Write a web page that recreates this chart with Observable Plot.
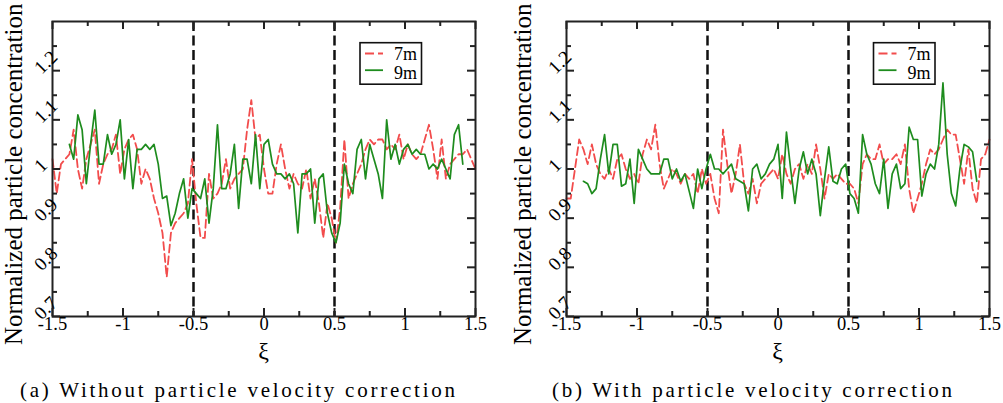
<!DOCTYPE html>
<html><head><meta charset="utf-8">
<script src="https://cdn.jsdelivr.net/npm/d3@7"></script>
<script src="https://cdn.jsdelivr.net/npm/@observablehq/plot@0.6"></script>
<style>
html,body{margin:0;padding:0;background:#fff;}
#fig{position:relative;width:1003px;height:403px;overflow:hidden;font-family:"Liberation Serif",serif;background:#fff;}
.panel{position:absolute;top:0;}
#overlay{position:absolute;left:0;top:0;pointer-events:none;}
</style></head><body><div id="fig"></div>
<script>
// ξ sample positions (typed grid)
const xiRed = [-1.5,-1.47,-1.44,-1.41,-1.38,-1.35,-1.32,-1.29,-1.26,-1.23,-1.2,-1.17,-1.14,-1.11,-1.08,-1.05,-1.02,-0.99,-0.96,-0.93,-0.9,-0.87,-0.84,-0.81,-0.78,-0.75,-0.72,-0.69,-0.66,-0.63,-0.6,-0.57,-0.54,-0.51,-0.48,-0.45,-0.42,-0.39,-0.36,-0.33,-0.3,-0.27,-0.24,-0.21,-0.18,-0.15,-0.12,-0.09,-0.06,-0.03,0,0.03,0.06,0.09,0.12,0.15,0.18,0.21,0.24,0.27,0.3,0.33,0.36,0.39,0.42,0.45,0.48,0.51,0.54,0.57,0.6,0.63,0.66,0.69,0.72,0.75,0.78,0.81,0.84,0.87,0.9,0.93,0.96,0.99,1.02,1.05,1.08,1.11,1.14,1.17,1.2,1.23,1.26,1.29,1.32,1.35,1.38,1.41,1.44,1.47,1.5];
const xiGreen = [-1.38,-1.35,-1.32,-1.29,-1.26,-1.23,-1.2,-1.17,-1.14,-1.11,-1.08,-1.05,-1.02,-0.99,-0.96,-0.93,-0.9,-0.87,-0.84,-0.81,-0.78,-0.75,-0.72,-0.69,-0.66,-0.63,-0.6,-0.57,-0.54,-0.51,-0.48,-0.45,-0.42,-0.39,-0.36,-0.33,-0.3,-0.27,-0.24,-0.21,-0.18,-0.15,-0.12,-0.09,-0.06,-0.03,0,0.03,0.06,0.09,0.12,0.15,0.18,0.21,0.24,0.27,0.3,0.33,0.36,0.39,0.42,0.45,0.48,0.51,0.54,0.57,0.6,0.63,0.66,0.69,0.72,0.75,0.78,0.81,0.84,0.87,0.9,0.93,0.96,0.99,1.02,1.05,1.08,1.11,1.14,1.17,1.2,1.23,1.26,1.29,1.32,1.35,1.38,1.41];

// (a) without correction
const conc7mA = [1.02,0.95,1.01,1.02,1.03,1.08,1.00,0.96,1.02,1.05,1.08,0.97,1.01,1.03,1.04,1.07,0.99,1.04,1.06,1.07,1.04,0.97,1.00,0.98,0.94,0.91,0.87,0.78,
0.87,0.89,0.90,0.91,0.93,1.02,
0.93,0.86,0.86,0.99,0.94,0.95,0.97,1.02,0.96,0.98,0.99,1.00,1.08,1.14,1.06,1.07,1.00,0.95,0.95,1.01,1.05,1.00,0.96,0.99,0.97,0.96,1.00,0.94,0.98,0.93,0.86,0.93,0.90,0.85,0.92,1.06,0.94,0.97,0.99,1.01,1.04,1.06,1.05,1.06,1.06,1.04,1.05,1.04,1.07,1.02,1.05,1.03,1.02,1.03,1.06,1.09,1.04,0.98,1.06,0.98,1.01,1.02,1.03,1.03,1.04,1.02,1.00];
const conc9mA = [1.05,1.02,1.11,1.08,0.97,1.05,1.12,1.01,1.01,1.07,1.03,1.05,1.10,0.98,1.06,0.96,1.04,1.04,1.05,1.04,1.05,1.01,0.94,0.945,0.885,0.91,0.95,0.98,0.90,0.96,
0.95,0.94,0.98,0.89,0.96,1.09,0.96,0.96,0.99,1.05,0.92,1.02,1.02,0.97,1.07,0.96,1.05,1.06,1.01,0.99,0.99,0.98,0.99,0.97,0.87,0.99,0.99,1.00,0.89,0.98,0.99,0.91,
0.87,0.85,0.89,1.01,0.97,0.95,1.04,1.06,0.98,1.05,1.02,0.99,0.94,1.10,1.02,1.05,1.01,1.04,1.05,1.03,1.04,1.03,1.03,1.00,1.01,1.00,1.02,1.00,0.98,1.07,1.09,1.01];

// (b) with correction
const conc7mB = [0.94,0.94,1.00,1.06,1.04,1.01,1.05,1.01,0.99,0.98,1.00,0.98,1.02,1.03,1.00,0.98,0.99,0.97,1.03,1.06,1.04,1.09,1.01,0.96,0.98,1.00,0.99,0.97,0.99,0.98,0.99,0.95,1.00,0.97,
0.99,0.94,0.91,1.08,1.01,0.95,0.99,1.05,0.97,0.95,0.98,0.93,0.97,0.98,0.99,1.00,0.98,1.03,0.99,0.97,1.00,1.01,0.98,1.01,0.99,1.05,1.00,0.94,0.99,0.98,0.99,0.98,0.97,
0.97,0.96,0.93,1.01,1.03,1.02,1.02,1.05,1.01,1.02,1.02,1.03,1.01,1.05,0.96,0.91,0.94,0.97,1.01,1.04,1.03,1.04,1.06,1.08,1.07,1.07,1.02,0.97,1.04,0.96,0.93,1.02,1.03,1.06];
const conc9mB = [0.975,0.97,0.95,0.96,1.02,1.07,0.99,1.05,1.05,0.965,0.97,1.02,0.93,1.04,1.02,1.00,0.99,0.99,0.99,1.02,1.02,0.98,1.00,0.975,0.99,0.955,0.92,1.00,0.96,1.00,
1.03,1.00,1.00,0.99,1.00,1.01,0.98,0.975,0.97,0.915,1.00,1.01,0.98,0.99,1.01,1.02,1.05,0.94,1.075,1.00,0.93,1.00,1.035,0.99,1.02,0.99,0.905,0.98,1.045,0.975,0.97,1.00,1.01,
0.95,0.94,0.91,1.07,1.03,1.01,0.97,0.95,1.02,0.92,0.99,1.01,0.96,0.97,1.085,1.06,1.06,0.945,0.99,1.01,1.00,1.05,1.175,1.03,0.95,0.925,1.00,1.05,1.045,1.035,0.975];

// axes
const xTickValues = [-1.5,-1,-0.5,0,0.5,1,1.5];
const xTickLabels = ["-1.5","-1","-0.5","0","0.5","1","1.5"];
const xMinorTicks = [-1.25,-0.75,-0.25,0.25,0.75,1.25];
const yTickValues = [0.7,0.8,0.9,1.0,1.1,1.2];
const yTickLabels = ["0.7","0.8","0.9","1","1.1","1.2"];
const yMinorTicks = [0.75,0.85,0.95,1.05,1.15,1.25];
const boundaries = [-0.5,0.5];
const seriesNames = ["7m","9m"];
const captions = ["(a) Without particle velocity correction","(b) With particle velocity correction"];
const yTitle = "Normalized particle concentration";
const xTitle = "ξ";

const RED = "#f24c4c", GREEN = "#1e8c1e", INK = "#222";
const FONT = '"Liberation Serif", serif';

function makePanel(v7, v9, width, marginRight) {
  const W = width - 52 - marginRight, H = 403 - 21 - 87;
  const d7 = xiRed.map((x, i) => ({x, y: v7[i]}));
  const d9 = xiGreen.map((x, i) => ({x, y: v9[i]}));
  const xT = xTickValues.map((v, i) => ({v, label: xTickLabels[i]}));
  const yT = yTickValues.map((v, i) => ({v, label: yTickLabels[i]}));
  const tk = {stroke: INK, strokeWidth: 2};
  return Plot.plot({
    width, height: 403, marginTop: 21, marginBottom: 87, marginLeft: 52, marginRight,
    style: {fontFamily: FONT, fontSize: "18px", background: "transparent", overflow: "visible", color: "#000"},
    x: {domain: [-1.5, 1.5], axis: null},
    y: {domain: [0.7, 1.3], axis: null},
    marks: [
      Plot.ruleX(boundaries, {x: d => d, stroke: "#111", strokeWidth: 2.5, strokeDasharray: "10,4.5"}),
      Plot.line(d7, {x: "x", y: "y", stroke: RED, strokeWidth: 1.8, strokeDasharray: "8,4"}),
      Plot.line(d9, {x: "x", y: "y", stroke: GREEN, strokeWidth: 1.7}),
      Plot.ruleX(xTickValues, {x: d => d, insetTop: H - 8, ...tk}),
      Plot.ruleX(xTickValues, {x: d => d, insetBottom: H - 8, ...tk}),
      Plot.ruleX(xMinorTicks, {x: d => d, insetTop: H - 5, ...tk}),
      Plot.ruleX(xMinorTicks, {x: d => d, insetBottom: H - 5, ...tk}),
      Plot.ruleY(yTickValues, {y: d => d, insetRight: W - 8, ...tk}),
      Plot.ruleY(yTickValues, {y: d => d, insetLeft: W - 8, ...tk}),
      Plot.ruleY(yMinorTicks, {y: d => d, insetRight: W - 5, ...tk}),
      Plot.ruleY(yMinorTicks, {y: d => d, insetLeft: W - 5, ...tk}),
      Plot.frame({stroke: INK, strokeWidth: 2}),
      Plot.text(xT, {x: "v", text: "label", frameAnchor: "bottom", dy: 13, fontSize: 18.5, fill: "#000"}),
      Plot.text(yT, {y: "v", text: "label", frameAnchor: "left", dx: -15, rotate: -45, fontSize: 19, fill: "#000"})
    ]
  });
}

const fig = document.getElementById("fig");
const layouts = [
  {left: 0, width: 500, mr: 25, v7: conc7mA, v9: conc9mA},
  {left: 514, width: 489, mr: 14, v7: conc7mB, v9: conc9mB}
];
layouts.forEach(L => {
  const div = document.createElement("div");
  div.className = "panel";
  div.style.left = L.left + "px";
  div.appendChild(makePanel(L.v7, L.v9, L.width, L.mr));
  fig.appendChild(div);
});

// overlay texts & legends
const ov = d3.select(fig).append("svg").attr("id", "overlay")
  .attr("width", 1003).attr("height", 403).style("font-family", FONT);
const cfg = [
  {titleX: 22, frameL: 52, legX: 360, capX: 20, capW: 435},
  {titleX: 531, frameL: 566, legX: 873.5, capX: 552, capW: 400}
];
cfg.forEach((c, k) => {
  ov.append("text").attr("transform", `translate(${c.titleX},345) rotate(-90)`)
    .attr("font-size", 25).attr("fill", "#000").text(yTitle);
  ov.append("text").attr("x", c.frameL + 211.5).attr("y", 359).attr("text-anchor", "middle")
    .attr("font-size", 24).attr("fill", "#000").text(xTitle);
  ov.append("text").attr("x", c.capX).attr("y", 397).attr("textLength", c.capW)
    .attr("lengthAdjust", "spacing").attr("font-size", 21).attr("fill", "#000").text(captions[k]);
  const g = ov.append("g").attr("transform", `translate(${c.legX},42.7)`);
  g.append("rect").attr("width", 61.5).attr("height", 41.5).attr("fill", "#fff")
    .attr("stroke", "#111").attr("stroke-width", 1.6);
  g.append("line").attr("x1", 5).attr("x2", 23).attr("y1", 10.8).attr("y2", 10.8)
    .attr("stroke", RED).attr("stroke-width", 1.8).attr("stroke-dasharray", "9,4");
  g.append("line").attr("x1", 5).attr("x2", 23).attr("y1", 27.5).attr("y2", 27.5)
    .attr("stroke", GREEN).attr("stroke-width", 1.8);
  g.append("text").attr("x", 57).attr("y", 17).attr("text-anchor", "end")
    .attr("font-size", 18).attr("fill", "#000").text(seriesNames[0]);
  g.append("text").attr("x", 57).attr("y", 36).attr("text-anchor", "end")
    .attr("font-size", 18).attr("fill", "#000").text(seriesNames[1]);
});
</script></body></html>
